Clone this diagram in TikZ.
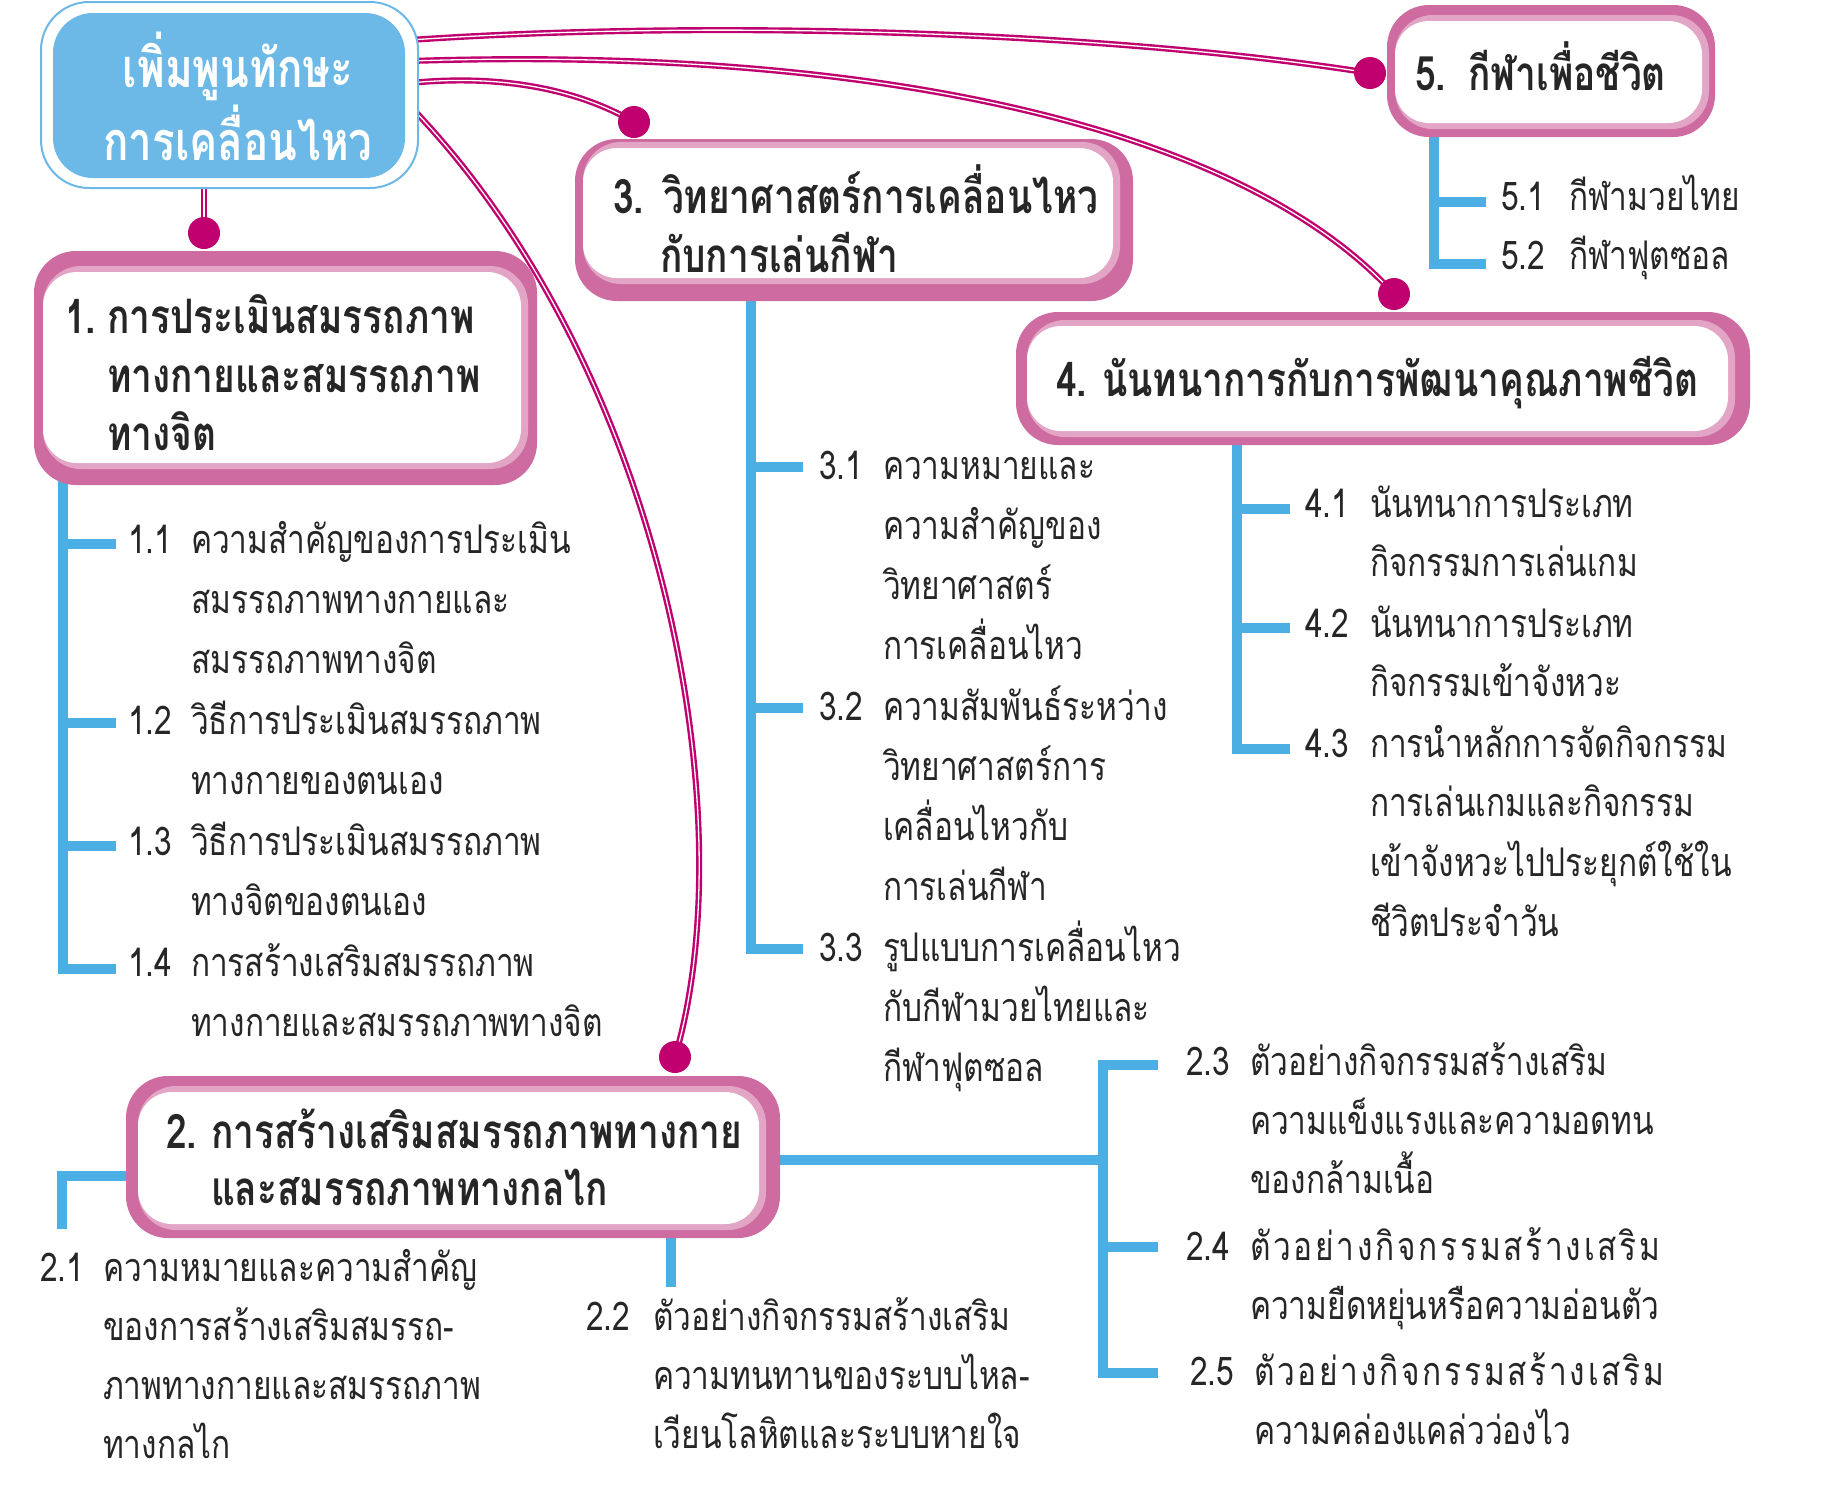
\documentclass[tikz,border=0pt]{standalone}
\usepackage{fontspec}
\usetikzlibrary{fit,calc}
\newfontfamily\thb[Script=Thai,FakeStretch=0.8]{Loma}
\newfontfamily\thh[Script=Thai,FakeStretch=0.78]{Loma}
\definecolor{pkdark}{HTML}{CE6BA0}
\definecolor{pklight}{HTML}{E3A5C6}
\definecolor{mag}{HTML}{C0006E}
\definecolor{tblue}{HTML}{4CAFE3}
\definecolor{rblue}{HTML}{6CB8E7}
\definecolor{ink}{HTML}{262626}
\pgfdeclarelayer{bg}
\pgfsetlayers{bg,main}
\tikzset{
 bodytxt/.style={anchor=base west, inner sep=0, outer sep=0, text=ink, font={\thb\fontsize{39.5}{44}\selectfont}},
 hdrtxt/.style={anchor=base west, inner sep=0, outer sep=0, text=ink, font={\thh\bfseries\fontsize{47.5}{52}\selectfont}},
 roottxt/.style={anchor=base, inner sep=0, outer sep=0, text=white, font={\thh\bfseries\fontsize{54}{58}\selectfont}},
 treeline/.style={draw=tblue, line width=9.5pt},
 mline/.style={draw=mag, line width=2.4pt, double=white, double distance=1.3pt},
 mdot/.style={circle, fill=mag, minimum size=32pt, inner sep=0},
 wbox/.style={fill=white, rounded corners=34pt, inner sep=0, draw=none},
}
% #1 name, #2-#5 outer corners, #6-#9 light band corners
\newcommand\pbox[9]{%
 \fill[pkdark, rounded corners=42pt] (#2,#3) rectangle (#4,#5);
 \fill[pklight, rounded corners=38pt] (#6,#7) rectangle (#8,#9);
 \node[wbox, fit={(#6,{#7+6}) ({#8-7},{#9-6})}] (#1) {};
}
\newcommand\titem[7]{%
 \node[bodytxt] (#1n) at (#2,#4) {#6};
 \foreach \ln [count=\i from 0] in {#7} {\node[bodytxt] (#1-\i) at (#3,{#4+\i*#5}) {\ln};}
}
\begin{document}
\begin{tikzpicture}[x=1pt,y=-1pt]
\useasboundingbox (0,0) rectangle (1833,1484);
% ---------- boxes ----------
\draw[rblue, line width=2pt, fill=white, rounded corners=48pt] (41,2) rectangle (418,188);
\node[fill=rblue, rounded corners=40pt, inner sep=0, fit={(53,13) (405,178)}] (root) {};
\node[roottxt] (rt1) at (238,87) {เพิ่มพูนทักษะ};
\node[roottxt] (rt2) at (238,160) {การเคลื่อนไหว};

\pbox{b1}{34}{251}{537}{485}{43}{266}{528}{469}
\pbox{b2}{126}{1076}{780}{1238}{138}{1086}{766}{1230}
\pbox{b3}{575}{139}{1133}{301}{583}{142}{1120}{284}
\pbox{b4}{1016}{312}{1750}{445}{1027}{320}{1735}{437}
\pbox{b5}{1387}{5}{1715}{137}{1395}{15}{1709}{129}

\node[hdrtxt] (h1n) at (65,333) {1.};
\node[hdrtxt] (h1a) at (107,333) {การประเมินสมรรถภาพ};
\node[hdrtxt] (h1b) at (107,392) {ทางกายและสมรรถภาพ};
\node[hdrtxt] (h1c) at (107,450) {ทางจิต};
\node[hdrtxt] (h2n) at (166,1148) {2.};
\node[hdrtxt] (h2a) at (211,1148) {การสร้างเสริมสมรรถภาพทางกาย};
\node[hdrtxt] (h2b) at (211,1205) {และสมรรถภาพทางกลไก};
\node[hdrtxt] (h3n) at (613,213) {3.};
\node[hdrtxt] (h3a) at (663,213) {วิทยาศาสตร์การเคลื่อนไหว};
\node[hdrtxt] (h3b) at (660,272) {กับการเล่นกีฬา};
\node[hdrtxt] (h4n) at (1056,396) {4.};
\node[hdrtxt] (h4a) at (1102,396) {นันทนาการกับการพัฒนาคุณภาพชีวิต};
\node[hdrtxt] (h5n) at (1415,90) {5.};
\node[hdrtxt] (h5a) at (1468,90) {กีฬาเพื่อชีวิต};

% ---------- dots ----------
\node[mdot] (d1) at (204,233) {};
\node[mdot] (d2) at (675,1057) {};
\node[mdot] (d3) at (634,122) {};
\node[mdot] (d4) at (1394,294) {};
\node[mdot] (d5) at (1370,73) {};

% ---------- item texts ----------
\titem{i11}{128}{191}{553}{60.4}{1.1}{ความสำคัญของการประเมิน,สมรรถภาพทางกายและ,สมรรถภาพทางจิต}
\titem{i12}{128}{191}{734}{60.4}{1.2}{วิธีการประเมินสมรรถภาพ,ทางกายของตนเอง}
\titem{i13}{128}{191}{855}{60.4}{1.3}{วิธีการประเมินสมรรถภาพ,ทางจิตของตนเอง}
\titem{i14}{128}{191}{976}{60.4}{1.4}{การสร้างเสริมสมรรถภาพ,ทางกายและสมรรถภาพทางจิต}

\titem{i31}{819}{883}{479}{60.3}{3.1}{ความหมายและ,ความสำคัญของ,วิทยาศาสตร์,การเคลื่อนไหว}
\titem{i32}{819}{883}{720}{60.3}{3.2}{ความสัมพันธ์ระหว่าง,วิทยาศาสตร์การ,เคลื่อนไหวกับ,การเล่นกีฬา}
\titem{i33}{819}{883}{961}{60.3}{3.3}{รูปแบบการเคลื่อนไหว,กับกีฬามวยไทยและ,กีฬาฟุตซอล}

\titem{i41}{1305}{1370}{517}{59.7}{4.1}{นันทนาการประเภท,กิจกรรมการเล่นเกม}
\titem{i42}{1305}{1370}{637}{59.7}{4.2}{นันทนาการประเภท,กิจกรรมเข้าจังหวะ}
\titem{i43}{1305}{1370}{757}{59.7}{4.3}{การนำหลักการจัดกิจกรรม,การเล่นเกมและกิจกรรม,เข้าจังหวะไปประยุกต์ใช้ใน,ชีวิตประจำวัน}

\titem{i51}{1501}{1569}{210}{59}{5.1}{กีฬามวยไทย}
\titem{i52}{1501}{1569}{269}{59}{5.2}{กีฬาฟุตซอล}

\titem{i23}{1186}{1250}{1075}{59.2}{2.3}{ตัวอย่างกิจกรรมสร้างเสริม,ความแข็งแรงและความอดทน,ของกล้ามเนื้อ}
\titem{i24}{1186}{1250}{1260}{59.2}{2.4}{{\addfontfeature{LetterSpace=7}ตัวอย่างกิจกรรมสร้างเสริม},ความยืดหยุ่นหรือความอ่อนตัว}
\titem{i25}{1190}{1254}{1385}{59.2}{2.5}{{\addfontfeature{LetterSpace=7}ตัวอย่างกิจกรรมสร้างเสริม},ความคล่องแคล่วว่องไว}

\titem{i21}{40}{103}{1281}{59.3}{2.1}{ความหมายและความสำคัญ,ของการสร้างเสริมสมรรถ-,ภาพทางกายและสมรรถภาพ,ทางกลไก}
\titem{i22}{586}{653}{1330}{59.3}{2.2}{ตัวอย่างกิจกรรมสร้างเสริม,ความทนทานของระบบไหล-,เวียนโลหิตและระบบหายใจ}

% ---------- connectors (background) ----------
\begin{pgfonlayer}{bg}
\fill[white] (0,0) rectangle (1833,1484);
% root connectors
\coordinate (r1) at (204,180);
\coordinate (r2) at (410,106);
\coordinate (r3) at (410,83);
\coordinate (r4) at (410,61);
\coordinate (r5) at (410,40);
\draw[mline] (r1) -- (d1.center);
\draw[mline] (r2) .. controls (665,370) and (745,820) .. (d2.center);
\draw[mline] (r3) .. controls (490,75) and (570,85) .. (d3.center);
\draw[mline] (r4) .. controls (900,45) and (1250,135) .. (d4.center);
\draw[mline] (r5) .. controls (700,20) and (1100,30) .. (d5.center);
% tree 1
\coordinate (g1t) at (63,470);
\coordinate (g1b1) at (116,544);
\coordinate (g1b2) at (116,723);
\coordinate (g1b3) at (116,846);
\coordinate (g1b4) at (116,969);
\draw[treeline] (g1t) |- (g1b4);
\foreach \k in {1,2,3} \draw[treeline] (g1t |- g1b\k) -- (g1b\k);
% tree 3
\coordinate (g3t) at (751,290);
\coordinate (g3b1) at (803,467);
\coordinate (g3b2) at (803,708);
\coordinate (g3b3) at (803,949);
\draw[treeline] (g3t) |- (g3b3);
\foreach \k in {1,2} \draw[treeline] (g3t |- g3b\k) -- (g3b\k);
% tree 4
\coordinate (g4t) at (1237,430);
\coordinate (g4b1) at (1290,509);
\coordinate (g4b2) at (1290,628);
\coordinate (g4b3) at (1290,749);
\draw[treeline] (g4t) |- (g4b3);
\foreach \k in {1,2} \draw[treeline] (g4t |- g4b\k) -- (g4b\k);
% tree 5
\coordinate (g5t) at (1434,125);
\coordinate (g5b1) at (1486,202);
\coordinate (g5b2) at (1486,264);
\draw[treeline] (g5t) |- (g5b2);
\draw[treeline] (g5t |- g5b1) -- (g5b1);
% tree 2 right
\coordinate (g2s) at (765,1160);
\coordinate (g2v) at (1103,1160);
\coordinate (g2c3) at (1103,1065);
\coordinate (g2c5) at (1103,1373);
\coordinate (g2b3) at (1158,1065);
\coordinate (g2b4) at (1158,1247);
\coordinate (g2b5) at (1158,1373);
\draw[treeline] (g2b3) -- (g2c3) -- (g2c5) -- (g2b5);
\draw[treeline] (g2s) -- (g2v);
\draw[treeline] (g2v |- g2b4) -- (g2b4);
% 2.1 and 2.2
\coordinate (g21s) at (140,1176);
\coordinate (g21c) at (62,1176);
\coordinate (g21e) at (62,1229);
\draw[treeline] (g21s) -- (g21c) -- (g21e);
\coordinate (g22s) at (671,1225);
\coordinate (g22e) at (671,1287);
\draw[treeline] (g22s) -- (g22e);
\end{pgfonlayer}
\end{tikzpicture}
\end{document}
